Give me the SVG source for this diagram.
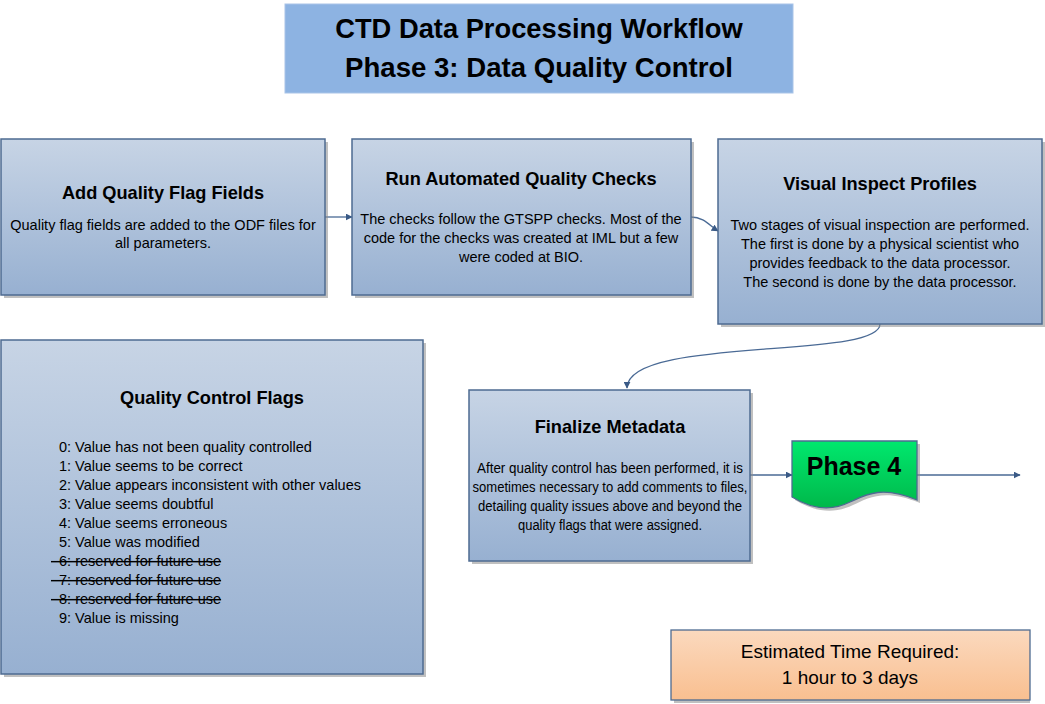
<svg xmlns="http://www.w3.org/2000/svg" width="1045" height="704" viewBox="0 0 1045 704">
<defs>
<linearGradient id="blue" x1="0" y1="0" x2="0" y2="1">
<stop offset="0" stop-color="#C7D4E5"/>
<stop offset="1" stop-color="#97B0D1"/>
</linearGradient>
<linearGradient id="green" x1="0" y1="0" x2="0" y2="1">
<stop offset="0" stop-color="#00E86E"/>
<stop offset="1" stop-color="#00B84A"/>
</linearGradient>
<linearGradient id="peach" x1="0" y1="0" x2="0" y2="1">
<stop offset="0" stop-color="#FBD9BE"/>
<stop offset="1" stop-color="#F9BF90"/>
</linearGradient>
<marker id="arr" viewBox="0 0 10 10" refX="9" refY="5" markerWidth="7" markerHeight="7" markerUnits="userSpaceOnUse" orient="auto">
<path d="M0,0 L10,5 L0,10 Z" fill="#3A5A86"/>
</marker>
</defs>
<style>
.box{fill:url(#blue);stroke:#4E6B91;stroke-width:1.5}
.shadow{fill:#8C8C8C;opacity:0.55}
.t{font-family:"Liberation Sans",Arial,sans-serif;fill:#000}
.h{font-size:18.2px;font-weight:bold;text-anchor:middle}
.b{font-size:14.5px;text-anchor:middle}
.f{font-size:14px;text-anchor:middle}
.l{font-size:14.5px}
.conn{fill:none;stroke:#4A6A95;stroke-width:1.3;marker-end:url(#arr)}
</style>
<rect width="1045" height="704" fill="#FFFFFF"/>

<g id="title">
<rect x="285" y="4" width="508" height="89" fill="#8DB3E2" stroke="#A9C4E8" stroke-width="1"/>
<text class="t" x="539" y="38" font-size="27.3" font-weight="bold" text-anchor="middle">CTD Data Processing Workflow</text>
<text class="t" x="539" y="77" font-size="27.6" font-weight="bold" text-anchor="middle">Phase 3: Data Quality Control</text>
</g>

<g id="connectors">
<path class="conn" d="M325,217 L352,217"/>
<path class="conn" d="M691,217 C704,217 710,226 718,231"/>
<path class="conn" d="M880,324 C880,360 627,336 627,388"/>
<path class="conn" d="M750,475 L792,475"/>
<path class="conn" d="M917,475 L1020,475"/>
</g>

<g id="node-add-flags">
<rect class="shadow" x="4" y="142" width="324" height="156"/>
<rect class="box" x="1" y="139" width="324" height="156"/>
<text class="t h" x="163" y="199">Add Quality Flag Fields</text>
<text class="t b" x="163" y="230">Quality flag fields are added to the ODF files for</text>
<text class="t b" x="163" y="248">all parameters.</text>
</g>

<g id="node-auto-checks">
<rect class="shadow" x="355" y="142" width="339" height="156"/>
<rect class="box" x="352" y="139" width="339" height="156"/>
<text class="t h" x="521" y="185">Run Automated Quality Checks</text>
<text class="t b" x="521" y="224">The checks follow the GTSPP checks. Most of the</text>
<text class="t b" x="521" y="243">code for the checks was created at IML but a few</text>
<text class="t b" x="521" y="262">were coded at BIO.</text>
</g>

<g id="node-visual">
<rect class="shadow" x="721" y="142" width="324" height="185"/>
<rect class="box" x="718" y="139" width="324" height="185"/>
<text class="t h" x="880" y="190">Visual Inspect Profiles</text>
<text class="t b" x="880" y="230">Two stages of visual inspection are performed.</text>
<text class="t b" x="880" y="249">The first is done by a physical scientist who</text>
<text class="t b" x="880" y="268">provides feedback to the data processor.</text>
<text class="t b" x="880" y="287">The second is done by the data processor.</text>
</g>

<g id="node-flags">
<rect class="shadow" x="4" y="343" width="422" height="334"/>
<rect class="box" x="1" y="340" width="422" height="334"/>
<text class="t h" x="212" y="404">Quality Control Flags</text>
<text class="t l" x="59" y="452">0: Value has not been quality controlled</text>
<text class="t l" x="59" y="471">1: Value seems to be correct</text>
<text class="t l" x="59" y="490">2: Value appears inconsistent with other values</text>
<text class="t l" x="59" y="509">3: Value seems doubtful</text>
<text class="t l" x="59" y="528">4: Value seems erroneous</text>
<text class="t l" x="59" y="547">5: Value was modified</text>
<text class="t l" x="51" y="566" xml:space="preserve" text-decoration="line-through">  6: reserved for future use</text>
<text class="t l" x="51" y="585" xml:space="preserve" text-decoration="line-through">  7: reserved for future use</text>
<text class="t l" x="51" y="604" xml:space="preserve" text-decoration="line-through">  8: reserved for future use</text>
<text class="t l" x="59" y="623">9: Value is missing</text>
</g>

<g id="node-finalize">
<rect class="shadow" x="472" y="393" width="281" height="171"/>
<rect class="box" x="469" y="390" width="281" height="171"/>
<text class="t h" x="610" y="433">Finalize Metadata</text>
<text class="t f" x="610" y="473" textLength="266" lengthAdjust="spacingAndGlyphs">After quality control has been performed, it is</text>
<text class="t f" x="610" y="492" textLength="275" lengthAdjust="spacingAndGlyphs">sometimes necessary to add comments to files,</text>
<text class="t f" x="610" y="511" textLength="264" lengthAdjust="spacingAndGlyphs">detailing quality issues above and beyond the</text>
<text class="t f" x="610" y="530" textLength="184" lengthAdjust="spacingAndGlyphs">quality flags that were assigned.</text>
</g>

<g id="node-phase4">
<path d="M795,444 H920 V503 C884,488 868,498 853,505 C833,515 813,511 795,500 Z" fill="#8C8C8C" opacity="0.55"/>
<path d="M792,441 H917 V500 C881,485 865,495 850,502 C830,512 810,508 792,497 Z" fill="url(#green)" stroke="#4E6B91" stroke-width="1.3"/>
<text class="t" x="854" y="475" font-size="25" font-weight="bold" text-anchor="middle">Phase 4</text>
</g>

<g id="node-time">
<rect class="shadow" x="674" y="633" width="356" height="70"/>
<rect x="671" y="630" width="359" height="70" fill="url(#peach)" stroke="#4E6B91" stroke-width="1.3"/>
<text class="t" x="850" y="658" font-size="19" text-anchor="middle">Estimated Time Required:</text>
<text class="t" x="850" y="684" font-size="19" text-anchor="middle">1 hour to 3 days</text>
</g>
</svg>
